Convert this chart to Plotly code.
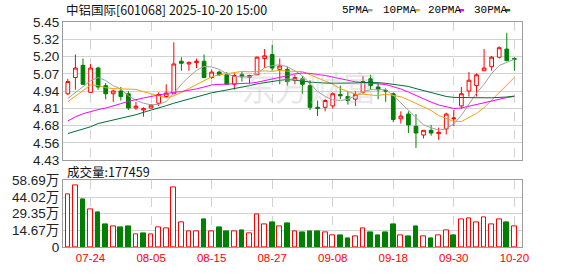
import plotly.graph_objects as go

dates = ["07-21","07-22","07-23","07-24","07-25","07-28","07-29","07-30","07-31",
         "08-01","08-04","08-05","08-06","08-07","08-08","08-11","08-12","08-13","08-14","08-15",
         "08-18","08-19","08-20","08-21","08-22","08-25","08-26","08-27","08-28","08-29",
         "09-01","09-02","09-03","09-04","09-05","09-08","09-09","09-10","09-11","09-12",
         "09-15","09-16","09-17","09-18","09-19","09-22","09-23","09-24","09-25","09-26",
         "09-29","09-30","10-09","10-10","10-13","10-14","10-15","10-16","10-17","10-20"]

opens = [4.92,5.04,5.13,4.93,5.11,4.98,4.92,4.94,4.92,4.815,
         4.80,4.815,4.85,4.90,4.92,5.16,5.14,5.15,5.16,5.04,
         5.08,5.06,4.99,5.06,5.04,5.06,5.18,5.21,5.10,5.10,
         5.02,5.03,4.98,4.82,4.82,4.83,4.915,4.90,4.88,4.93,
         5.03,4.97,4.945,4.92,4.735,4.77,4.68,4.615,4.65,4.625,
         4.66,4.735,4.83,4.94,4.98,5.09,5.12,5.19,5.25,5.18]
highs = [5.03,5.21,5.18,5.14,5.12,5.00,4.95,4.97,4.94,4.86,
         4.82,4.845,4.93,4.99,5.30,5.19,5.16,5.18,5.21,5.10,
         5.09,5.08,5.07,5.08,5.06,5.195,5.25,5.28,5.18,5.12,
         5.06,5.05,5.02,4.87,4.88,4.93,4.98,4.94,4.94,5.05,
         5.06,5.00,4.96,4.93,4.79,4.79,4.77,4.65,4.69,4.67,
         4.78,4.80,4.97,5.08,5.07,5.25,5.20,5.27,5.37,5.19]
lows = [4.91,4.95,4.985,4.925,4.95,4.88,4.86,4.87,4.80,4.80,
        4.75,4.81,4.83,4.89,4.92,5.09,5.09,5.11,5.04,5.03,
        5.05,4.99,4.95,5.01,4.99,5.06,5.11,5.09,4.99,4.98,
        4.99,4.92,4.80,4.755,4.79,4.81,4.88,4.84,4.83,4.92,
        4.95,4.88,4.86,4.71,4.70,4.63,4.52,4.59,4.61,4.58,
        4.62,4.68,4.81,4.90,4.90,5.09,5.09,5.18,5.16,5.09]
closes = [5.01,5.11,4.99,5.11,4.97,4.92,4.94,4.90,4.815,4.828,
          4.81,4.835,4.915,4.925,5.14,5.145,5.15,5.16,5.04,5.08,
          5.06,4.99,5.055,5.045,5.055,5.19,5.20,5.11,5.125,5.01,
          5.04,4.99,4.82,4.812,4.87,4.92,4.905,4.87,4.915,5.01,
          4.98,4.95,4.94,4.73,4.755,4.69,4.63,4.65,4.63,4.635,
          4.77,4.74,4.92,5.02,5.06,5.11,5.19,5.26,5.165,5.175]

ma5 = [4.885,4.928,4.975,5.016,5.040,5.018,4.980,4.955,4.905,4.872,
       4.850,4.838,4.842,4.862,4.923,4.990,5.045,5.092,5.122,5.118,
       5.100,5.068,5.046,5.044,5.045,5.070,5.111,5.128,5.134,5.120,
       5.090,5.053,4.998,4.937,4.900,4.875,4.870,4.880,4.905,4.935,
       4.950,4.950,4.950,4.907,4.852,4.800,4.738,4.690,4.669,4.651,
       4.662,4.698,4.760,4.845,4.925,4.990,5.070,5.129,5.151,5.175]
ma10 = [4.861,4.904,4.945,4.985,4.980,4.965,4.958,4.956,4.955,4.952,
        4.935,4.918,4.905,4.890,4.905,4.930,4.960,4.990,5.020,5.045,
        5.060,5.070,5.078,5.085,5.082,5.085,5.089,5.085,5.093,5.087,
        5.085,5.084,5.061,5.037,5.017,4.990,4.958,4.935,4.916,4.916,
        4.910,4.906,4.917,4.910,4.898,4.875,4.848,4.826,4.797,4.759,
        4.738,4.717,4.715,4.744,4.775,4.817,4.873,4.934,4.987,5.041]
ma20 = [4.719,4.750,4.772,4.790,4.803,4.814,4.828,4.847,4.864,4.878,
        4.889,4.900,4.912,4.922,4.931,4.936,4.944,4.956,4.970,4.985,
        4.989,4.991,4.993,4.995,4.998,5.005,5.016,5.028,5.040,5.053,
        5.066,5.074,5.070,5.065,5.055,5.043,5.031,5.017,5.008,5.003,
        4.999,4.995,4.988,4.972,4.955,4.932,4.906,4.883,4.858,4.837,
        4.822,4.811,4.815,4.828,4.840,4.853,4.866,4.881,4.892,4.900]
ma30 = [4.626,4.643,4.660,4.676,4.700,4.713,4.725,4.737,4.750,4.765,
        4.783,4.798,4.814,4.832,4.850,4.866,4.884,4.899,4.913,4.927,
        4.937,4.947,4.956,4.969,4.980,4.993,5.003,5.011,5.019,5.026,
        5.022,5.014,5.006,5.000,4.999,4.998,4.997,4.997,4.999,5.003,
        5.005,5.002,4.997,4.990,4.983,4.974,4.958,4.944,4.929,4.912,
        4.900,4.893,4.891,4.890,4.890,4.890,4.890,4.891,4.896,4.903]

volumes = [46.8,54.4,41.7,33.2,30.6,19.8,18.4,17.0,17.9,10.8,
           11.9,10.8,17.6,16.7,52.5,22.1,13.6,13.6,24.7,13.6,
           17.0,13.6,14.2,14.5,11.9,28.6,20.1,22.1,18.4,20.4,
           13.6,12.8,13.6,13.6,12.8,9.9,9.9,7.7,9.1,16.2,
           12.8,9.9,12.8,19.6,9.9,9.4,17.9,9.1,7.7,9.9,
           15.0,9.9,24.1,24.9,21.3,26.1,20.1,24.1,21.3,17.7459]
vol_up = [1,1,0,1,0,0,1,0,0,1,
          0,1,1,1,1,1,1,1,0,1,
          0,0,1,0,1,1,1,0,1,0,
          1,0,0,0,1,1,0,0,1,1,
          0,0,0,0,1,0,0,1,0,1,
          1,0,1,1,1,1,1,1,0,1]

price_ticks = [4.43,4.5575,4.685,4.8125,4.94,5.0675,5.195,5.3225,5.45]
price_labels = ["4.43","4.56","4.68","4.81","4.94","5.07","5.20","5.32","5.45"]
vol_ticks = [0,14.6725,29.345,44.0175,58.69]
vol_labels = ["0","14.67万","29.35万","44.02万","58.69万"]
date_ticks = ["07-24","08-05","08-15","08-27","09-08","09-18","09-30","10-20"]

title_text = "中铝国际[601068] 2025-10-20 15:00"
vol_title = "成交量:177459"
ma_names = ["5PMA","10PMA","20PMA","30PMA"]
ma_colors = ["#a0a0a0","#f0a30a","#ff00ff","#006e34"]

RED = "#ff0000"
GREEN = "#008000"

x = list(range(len(dates)))
tickpos = [dates.index(d) for d in date_ticks]

fig = go.Figure()
fig.add_trace(go.Candlestick(
    x=x, open=opens, high=highs, low=lows, close=closes,
    increasing=dict(line=dict(color=RED, width=1), fillcolor="#ffffff"),
    decreasing=dict(line=dict(color=GREEN, width=1), fillcolor=GREEN),
    whiskerwidth=0, xaxis="x", yaxis="y", showlegend=False, hoverinfo="skip"))
for vals, col in zip([ma5, ma10, ma20, ma30], ma_colors):
    fig.add_trace(go.Scatter(x=x, y=vals, mode="lines", line=dict(color=col, width=1),
                             xaxis="x", yaxis="y", showlegend=False, hoverinfo="skip"))

fig.add_trace(go.Bar(
    x=x, y=volumes, width=0.62,
    marker=dict(color=["#ffffff" if u else GREEN for u in vol_up],
                line=dict(color=[RED if u else GREEN for u in vol_up], width=1)),
    xaxis="x2", yaxis="y2", showlegend=False, hoverinfo="skip"))

xr = [-0.64, 60.01]
grid_c = "#d2d2d2"
frame_c = "#9c9c9c"
tickfont = dict(family="Liberation Sans, Arial, sans-serif", size=13.5, color="#222222")

fig.update_layout(
    width=578, height=276,
    margin=dict(l=55, r=56, t=22, b=21),
    paper_bgcolor="#ffffff", plot_bgcolor="#ffffff",
    showlegend=False, bargap=0,
    xaxis=dict(domain=[0, 1], range=xr, tickmode="array", tickvals=tickpos,
               showticklabels=False, showgrid=True, gridcolor=grid_c, griddash="dash",
               gridwidth=1, showline=True, mirror=True, linecolor=frame_c, linewidth=1,
               ticks="", zeroline=False, rangeslider=dict(visible=False), anchor="y"),
    yaxis=dict(domain=[0.3863, 1], range=[4.43, 5.45], tickmode="array",
               tickvals=price_ticks, ticktext=price_labels, tickfont=tickfont,
               showgrid=True, gridcolor=grid_c, gridwidth=1, showline=True, mirror=True,
               linecolor=frame_c, linewidth=1, ticks="", zeroline=False, anchor="x"),
    xaxis2=dict(domain=[0, 1], range=xr, tickmode="array", tickvals=tickpos,
                ticktext=date_ticks, showticklabels=True,
                tickfont=dict(family="Liberation Sans, Arial, sans-serif", size=11.5, color=RED),
                showgrid=True, gridcolor=grid_c, griddash="dash", gridwidth=1,
                showline=True, mirror=True, linecolor=frame_c, linewidth=1,
                ticks="", zeroline=False, anchor="y2"),
    yaxis2=dict(domain=[0, 0.2961], range=[0, 58.69], tickmode="array",
                tickvals=vol_ticks, ticktext=vol_labels,
                tickfont=dict(family="Liberation Sans, Noto Sans CJK SC, sans-serif", size=13.5, color="#222222"),
                showgrid=True, gridcolor=grid_c, gridwidth=1, showline=True, mirror=True,
                linecolor=frame_c, linewidth=1, ticks="", zeroline=False, anchor="x2"),
)

def px_x(p):
    return (p - 55) / 467.0

def px_y(p):
    return (255 - p) / 233.0

ann = []
ann.append(dict(text=title_text, x=px_x(56), y=px_y(9), xref="paper", yref="paper",
                xanchor="left", yanchor="middle", showarrow=False,
                font=dict(family="Noto Sans CJK SC, sans-serif", size=12.5, color="#111111")))
ann.append(dict(text=vol_title, x=px_x(57), y=px_y(177), xref="paper", yref="paper",
                xanchor="left", yanchor="middle", showarrow=False,
                font=dict(family="Noto Sans CJK SC, sans-serif", size=12.5, color="#111111")))
ann.append(dict(text="东方财富", x=px_x(305), y=px_y(89), xref="paper", yref="paper",
                xanchor="center", yanchor="middle", showarrow=False,
                font=dict(family="Noto Sans CJK SC, sans-serif", size=34, color="rgba(190,190,198,0.35)")))

leg_text_x = [337, 379, 424, 471]
leg_mark_x = [365, 413, 458, 505]
shapes = []
for name, col, tx, mx in zip(ma_names, ma_colors, leg_text_x, leg_mark_x):
    ann.append(dict(text=name, x=px_x(tx), y=px_y(9.5), xref="paper", yref="paper",
                    xanchor="left", yanchor="middle", showarrow=False,
                    font=dict(family="Liberation Mono, monospace", size=11, color="#000000")))
    shapes.append(dict(type="rect", xref="paper", yref="paper",
                       x0=px_x(mx), x1=px_x(mx + 5), y0=px_y(11), y1=px_y(8.5),
                       fillcolor=col, line=dict(width=0)))

fig.update_layout(annotations=ann, shapes=shapes)
fig.write_html("out.html")
